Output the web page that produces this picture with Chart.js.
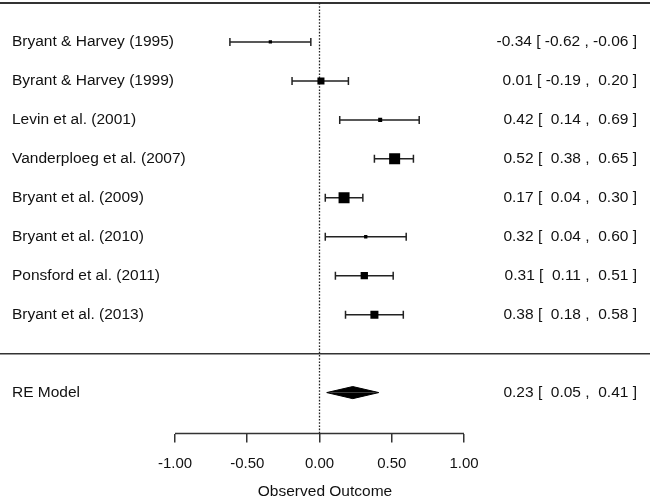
<!DOCTYPE html>
<html lang="en">
<head>
    <meta charset="UTF-8">
    <title>Forest Plot</title>
    <script src="https://cdn.jsdelivr.net/npm/chart.js"></script>
    <style>
        body { margin: 0; background: #ffffff; }
        canvas { display: block; }
    </style>
</head>
<body>
    <canvas id="forest" width="650" height="500"></canvas>

    <script>
        // Study data
        const studies = ['Bryant & Harvey (1995)', 'Byrant & Harvey (1999)', 'Levin et al. (2001)',
            'Vanderploeg et al. (2007)', 'Bryant et al. (2009)', 'Bryant et al. (2010)',
            'Ponsford et al. (2011)', 'Bryant et al. (2013)'];
        const estimates = [-0.34, 0.01, 0.42, 0.52, 0.17, 0.32, 0.31, 0.38];
        const lower = [-0.62, -0.19, 0.14, 0.38, 0.04, 0.04, 0.11, 0.18];
        const upper = [-0.06, 0.20, 0.69, 0.65, 0.30, 0.60, 0.51, 0.58];
        const weights = [6.0, 12.8, 7.3, 20.0, 20.0, 6.0, 13.3, 14.6];

        const summaryLabel = 'RE Model';
        const summaryEst = 0.23;
        const summaryLower = 0.05;
        const summaryUpper = 0.41;

        const xTicks = [-1, -0.5, 0, 0.5, 1];
        const axisTitle = 'Observed Outcome';

        // layout of rows (1..8 studies, 9 separator, 10 summary)
        const sepRow = studies.length + 1;
        const sumRow = studies.length + 2;
        const yEnd = 11.05;
        const diamondHalf = 0.155;
        const ink = '#222';
        const FONT = '"Liberation Sans", Arial, sans-serif';

        const rowOf = i => i + 1;
        const pad = v => (v < 0 ? '' : ' ') + v.toFixed(2);
        const ciText = (e, lo, hi) => `${e.toFixed(2)} [ ${pad(lo)} , ${pad(hi)} ]`;

        const ciLines = [];
        studies.forEach((s, i) => {
            ciLines.push({ x: lower[i], y: rowOf(i) }, { x: upper[i], y: rowOf(i) }, { x: upper[i], y: null });
        });
        const caps = [];
        studies.forEach((s, i) => {
            caps.push({ x: lower[i], y: rowOf(i) }, { x: upper[i], y: rowOf(i) });
        });

        const textPlugin = {
            id: 'forestText',
            afterDatasetsDraw(chart) {
                const { ctx } = chart;
                const y = chart.scales.y;
                ctx.save();
                ctx.fillStyle = '#111';
                ctx.textBaseline = 'middle';
                ctx.font = '15.5px ' + FONT;
                ctx.textAlign = 'left';
                studies.forEach((s, i) => ctx.fillText(s, 12, y.getPixelForValue(rowOf(i))));
                ctx.fillText(summaryLabel, 12, y.getPixelForValue(sumRow));
                ctx.textAlign = 'right';
                studies.forEach((s, i) => ctx.fillText(ciText(estimates[i], lower[i], upper[i]), 637, y.getPixelForValue(rowOf(i))));
                ctx.fillText(ciText(summaryEst, summaryLower, summaryUpper), 637, y.getPixelForValue(sumRow));
                ctx.restore();
            }
        };

        const ctx = document.getElementById('forest').getContext('2d');
        new Chart(ctx, {
            type: 'scatter',
            data: {
                datasets: [
                    {   // squares sized by weight
                        data: estimates.map((e, i) => ({ x: e, y: rowOf(i) })),
                        pointStyle: 'rect',
                        pointRadius: weights.map(w => w * 0.55 / Math.SQRT2),
                        pointBackgroundColor: '#000',
                        pointBorderWidth: 0
                    },
                    {   // whisker caps
                        data: caps,
                        pointStyle: 'line',
                        rotation: 90,
                        pointRadius: 4,
                        pointBorderColor: ink,
                        pointBorderWidth: 1.5
                    },
                    {   // confidence intervals
                        data: ciLines,
                        showLine: true,
                        spanGaps: false,
                        borderColor: ink,
                        borderWidth: 1.5,
                        pointRadius: 0
                    },
                    {   // diamond upper half
                        data: [{ x: summaryLower, y: sumRow }, { x: summaryEst, y: sumRow - diamondHalf }, { x: summaryUpper, y: sumRow }],
                        showLine: true,
                        borderColor: '#000',
                        borderWidth: 1,
                        backgroundColor: '#000',
                        fill: { value: sumRow },
                        pointRadius: 0
                    },
                    {   // diamond lower half
                        data: [{ x: summaryLower, y: sumRow }, { x: summaryEst, y: sumRow + diamondHalf }, { x: summaryUpper, y: sumRow }],
                        showLine: true,
                        borderColor: '#000',
                        borderWidth: 1,
                        backgroundColor: '#000',
                        fill: { value: sumRow },
                        pointRadius: 0
                    },
                    {   // reference line at zero
                        data: [{ x: 0, y: 0 }, { x: 0, y: yEnd }],
                        showLine: true,
                        borderColor: ink,
                        borderWidth: 1.3,
                        borderDash: [1.6, 1.6],
                        pointRadius: 0
                    },
                    {   // top rule
                        data: [{ x: -3, y: 0 }, { x: 3, y: 0 }],
                        showLine: true,
                        borderColor: '#333',
                        borderWidth: 2,
                        pointRadius: 0,
                        clip: false
                    },
                    {   // separator above summary
                        data: [{ x: -3, y: sepRow }, { x: 3, y: sepRow }],
                        showLine: true,
                        borderColor: '#333',
                        borderWidth: 1.5,
                        pointRadius: 0
                    },
                    {   // x axis line from first to last tick
                        data: [{ x: xTicks[0], y: yEnd }, { x: xTicks[xTicks.length - 1], y: yEnd }],
                        showLine: true,
                        borderColor: '#333',
                        borderWidth: 1.5,
                        pointRadius: 0,
                        clip: false
                    }
                ]
            },
            options: {
                responsive: false,
                animation: false,
                layout: { autoPadding: false, padding: { top: 3, left: 0, right: 0, bottom: 0 } },
                plugins: {
                    legend: { display: false },
                    tooltip: { enabled: false }
                },
                scales: {
                    x: {
                        type: 'linear',
                        min: -319.5 / 144.5,
                        max: (650 - 319.5) / 144.5,
                        afterBuildTicks: scale => { scale.ticks = xTicks.map(v => ({ value: v })); },
                        border: { display: false },
                        grid: { drawOnChartArea: false, drawTicks: true, tickLength: 9, color: '#333', lineWidth: 1.5 },
                        ticks: {
                            padding: 12,
                            color: '#111',
                            font: { family: FONT, size: 15 },
                            callback: v => Number(v).toFixed(2)
                        },
                        title: {
                            display: true,
                            text: axisTitle,
                            color: '#111',
                            font: { family: FONT, size: 15.5, lineHeight: 1 },
                            padding: { top: -1, bottom: 1 }
                        }
                    },
                    y: {
                        type: 'linear',
                        reverse: true,
                        min: 0,
                        max: yEnd,
                        display: false
                    }
                }
            },
            plugins: [textPlugin]
        });
    </script>
</body>
</html>
